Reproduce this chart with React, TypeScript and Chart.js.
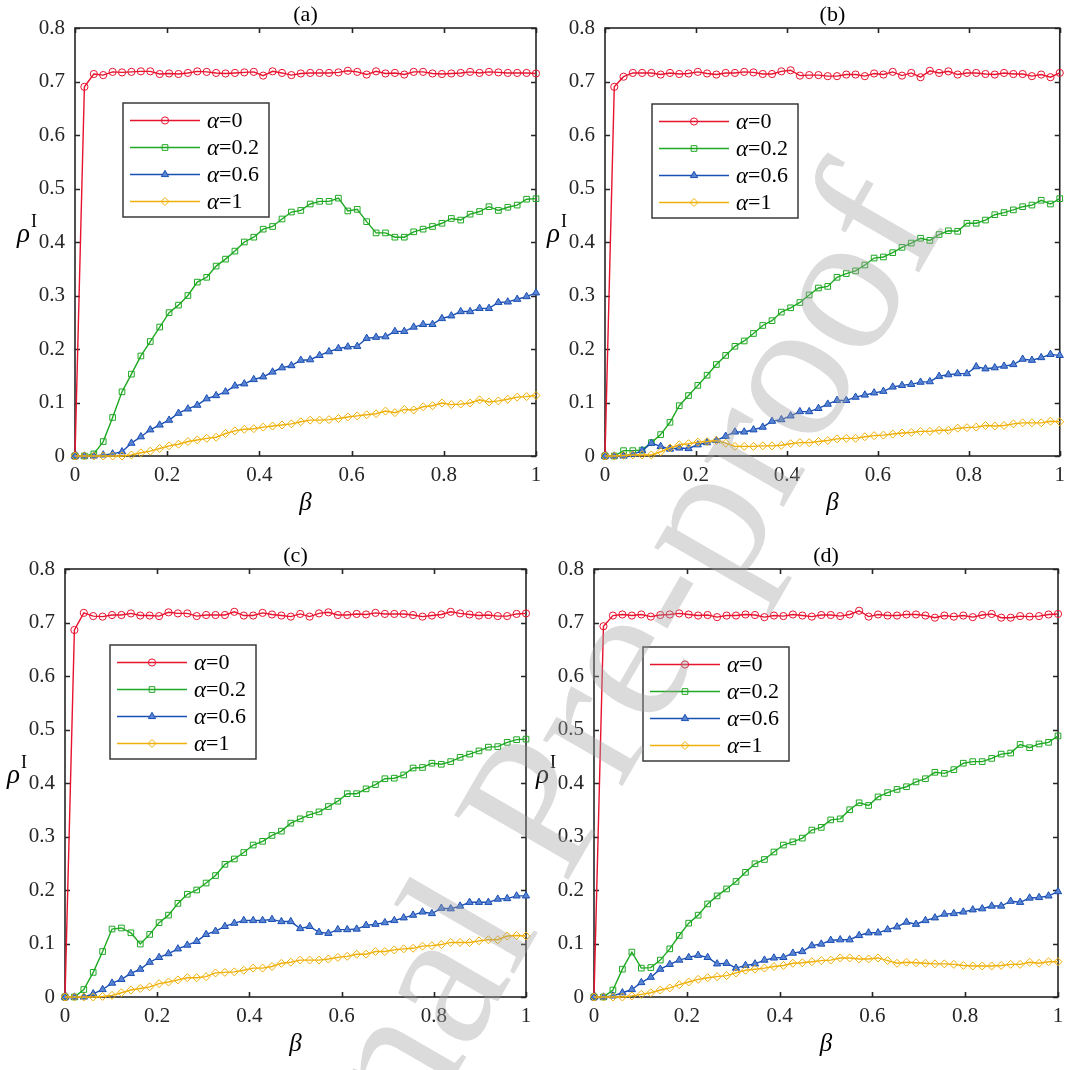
import React, { useEffect, useRef } from "react";
import { Chart, registerables } from "chart.js";
import { drawPoint } from "chart.js/helpers";

Chart.register(...registerables);

// ---------------- data ----------------
const betaValues = [0, 0.0204, 0.0408, 0.0612, 0.0816, 0.102, 0.1224, 0.1429, 0.1633, 0.1837, 0.2041, 0.2245, 0.2449, 0.2653, 0.2857, 0.3061, 0.3265, 0.3469, 0.3673, 0.3878, 0.4082, 0.4286, 0.449, 0.4694, 0.4898, 0.5102, 0.5306, 0.551, 0.5714, 0.5918, 0.6122, 0.6327, 0.6531, 0.6735, 0.6939, 0.7143, 0.7347, 0.7551, 0.7755, 0.7959, 0.8163, 0.8367, 0.8571, 0.8776, 0.898, 0.9184, 0.9388, 0.9592, 0.9796, 1];

const alphaLabels = ["0", "0.2", "0.6", "1"];
const panelTitles = ["(a)", "(b)", "(c)", "(d)"];
const xTickLabels = ["0", "0.2", "0.4", "0.6", "0.8", "1"];
const yTickLabels = ["0", "0.1", "0.2", "0.3", "0.4", "0.5", "0.6", "0.7", "0.8"];

const aRho0 = [0, 0.69, 0.714, 0.712, 0.718, 0.717, 0.718, 0.719, 0.719, 0.714, 0.715, 0.714, 0.716, 0.719, 0.718, 0.716, 0.715, 0.716, 0.717, 0.718, 0.711, 0.719, 0.716, 0.712, 0.715, 0.716, 0.716, 0.716, 0.717, 0.72, 0.718, 0.713, 0.719, 0.715, 0.716, 0.713, 0.718, 0.718, 0.715, 0.714, 0.715, 0.716, 0.718, 0.716, 0.718, 0.717, 0.716, 0.716, 0.716, 0.715];
const aRho02 = [0, 0, 0.004, 0.027, 0.072, 0.12, 0.153, 0.187, 0.214, 0.241, 0.268, 0.282, 0.3, 0.325, 0.334, 0.355, 0.368, 0.383, 0.4, 0.409, 0.424, 0.429, 0.443, 0.456, 0.459, 0.471, 0.476, 0.476, 0.482, 0.458, 0.461, 0.438, 0.417, 0.417, 0.409, 0.409, 0.419, 0.424, 0.429, 0.435, 0.444, 0.441, 0.452, 0.457, 0.466, 0.459, 0.465, 0.469, 0.48, 0.481];
const aRho06 = [0, 0, 0, 0.002, 0.004, 0.008, 0.024, 0.036, 0.049, 0.058, 0.067, 0.08, 0.088, 0.095, 0.107, 0.113, 0.12, 0.131, 0.135, 0.143, 0.148, 0.157, 0.165, 0.169, 0.179, 0.18, 0.188, 0.195, 0.201, 0.204, 0.205, 0.22, 0.222, 0.223, 0.233, 0.233, 0.241, 0.246, 0.246, 0.257, 0.262, 0.27, 0.27, 0.276, 0.276, 0.287, 0.288, 0.293, 0.298, 0.305];
const aRho1 = [0, 0, 0, 0, 0, 0, 0.002, 0.006, 0.009, 0.014, 0.019, 0.022, 0.027, 0.03, 0.033, 0.035, 0.042, 0.047, 0.05, 0.051, 0.054, 0.056, 0.058, 0.06, 0.064, 0.067, 0.067, 0.068, 0.07, 0.073, 0.075, 0.077, 0.079, 0.084, 0.081, 0.087, 0.086, 0.092, 0.094, 0.099, 0.096, 0.097, 0.099, 0.105, 0.101, 0.103, 0.106, 0.11, 0.111, 0.113];

const bRho0 = [0, 0.69, 0.709, 0.716, 0.716, 0.716, 0.713, 0.716, 0.714, 0.715, 0.718, 0.715, 0.713, 0.716, 0.716, 0.718, 0.717, 0.714, 0.714, 0.719, 0.721, 0.711, 0.712, 0.712, 0.71, 0.71, 0.713, 0.713, 0.71, 0.715, 0.713, 0.718, 0.711, 0.716, 0.708, 0.72, 0.716, 0.719, 0.713, 0.716, 0.716, 0.714, 0.713, 0.716, 0.714, 0.714, 0.71, 0.713, 0.708, 0.716];
const bRho02 = [0, 0, 0.01, 0.01, 0.011, 0.025, 0.04, 0.063, 0.094, 0.113, 0.132, 0.151, 0.171, 0.188, 0.205, 0.215, 0.229, 0.244, 0.253, 0.269, 0.277, 0.287, 0.301, 0.314, 0.317, 0.334, 0.341, 0.346, 0.357, 0.37, 0.372, 0.38, 0.39, 0.398, 0.407, 0.403, 0.414, 0.421, 0.42, 0.435, 0.435, 0.441, 0.451, 0.455, 0.46, 0.466, 0.469, 0.478, 0.471, 0.481];
const bRho06 = [0, 0, 0, 0.003, 0.01, 0.024, 0.018, 0.013, 0.015, 0.014, 0.021, 0.025, 0.029, 0.037, 0.045, 0.045, 0.049, 0.054, 0.065, 0.068, 0.075, 0.083, 0.083, 0.089, 0.097, 0.104, 0.104, 0.11, 0.114, 0.118, 0.121, 0.129, 0.132, 0.134, 0.138, 0.139, 0.149, 0.152, 0.154, 0.154, 0.167, 0.163, 0.165, 0.168, 0.171, 0.181, 0.179, 0.184, 0.19, 0.188];
const bRho1 = [0, 0, 0.001, 0.002, 0.002, 0.002, 0.008, 0.015, 0.021, 0.023, 0.026, 0.027, 0.029, 0.024, 0.018, 0.018, 0.018, 0.019, 0.019, 0.02, 0.023, 0.025, 0.025, 0.027, 0.029, 0.032, 0.033, 0.033, 0.036, 0.038, 0.039, 0.041, 0.043, 0.044, 0.046, 0.046, 0.048, 0.048, 0.052, 0.053, 0.054, 0.057, 0.056, 0.057, 0.06, 0.062, 0.062, 0.062, 0.065, 0.064];

const cRho0 = [0, 0.686, 0.718, 0.712, 0.711, 0.714, 0.714, 0.717, 0.713, 0.713, 0.712, 0.719, 0.717, 0.717, 0.712, 0.714, 0.714, 0.714, 0.72, 0.713, 0.713, 0.718, 0.715, 0.713, 0.711, 0.716, 0.711, 0.717, 0.719, 0.714, 0.714, 0.716, 0.715, 0.718, 0.716, 0.716, 0.716, 0.714, 0.711, 0.713, 0.715, 0.72, 0.717, 0.715, 0.713, 0.714, 0.712, 0.712, 0.716, 0.717];
const cRho02 = [0, 0, 0.014, 0.046, 0.085, 0.127, 0.129, 0.12, 0.099, 0.117, 0.139, 0.153, 0.175, 0.192, 0.2, 0.213, 0.227, 0.248, 0.258, 0.27, 0.284, 0.291, 0.302, 0.31, 0.325, 0.333, 0.341, 0.346, 0.356, 0.366, 0.38, 0.38, 0.389, 0.397, 0.408, 0.409, 0.415, 0.428, 0.429, 0.437, 0.435, 0.44, 0.448, 0.454, 0.46, 0.467, 0.468, 0.476, 0.481, 0.482];
const cRho06 = [0, 0, 0, 0.006, 0.014, 0.026, 0.033, 0.044, 0.052, 0.065, 0.074, 0.081, 0.09, 0.097, 0.104, 0.117, 0.123, 0.132, 0.138, 0.143, 0.143, 0.143, 0.145, 0.141, 0.141, 0.128, 0.132, 0.121, 0.119, 0.126, 0.126, 0.127, 0.134, 0.136, 0.139, 0.143, 0.148, 0.153, 0.159, 0.156, 0.166, 0.165, 0.17, 0.177, 0.177, 0.177, 0.183, 0.184, 0.189, 0.189];
const cRho1 = [0, 0, 0, 0, 0.001, 0.003, 0.008, 0.013, 0.016, 0.019, 0.025, 0.028, 0.032, 0.036, 0.036, 0.038, 0.045, 0.046, 0.047, 0.05, 0.054, 0.054, 0.057, 0.063, 0.065, 0.069, 0.069, 0.069, 0.071, 0.074, 0.076, 0.08, 0.08, 0.085, 0.085, 0.088, 0.09, 0.091, 0.095, 0.096, 0.098, 0.102, 0.102, 0.102, 0.105, 0.107, 0.107, 0.114, 0.115, 0.114];

const dRho0 = [0, 0.693, 0.713, 0.715, 0.713, 0.715, 0.711, 0.714, 0.715, 0.717, 0.715, 0.713, 0.714, 0.71, 0.713, 0.713, 0.715, 0.714, 0.71, 0.713, 0.712, 0.715, 0.713, 0.711, 0.714, 0.714, 0.712, 0.715, 0.722, 0.711, 0.715, 0.713, 0.713, 0.715, 0.715, 0.713, 0.709, 0.713, 0.711, 0.713, 0.71, 0.714, 0.716, 0.709, 0.709, 0.712, 0.711, 0.712, 0.715, 0.716];
const dRho02 = [0, 0, 0.013, 0.052, 0.084, 0.054, 0.055, 0.069, 0.09, 0.115, 0.138, 0.153, 0.174, 0.189, 0.202, 0.216, 0.233, 0.249, 0.257, 0.271, 0.284, 0.29, 0.297, 0.312, 0.317, 0.331, 0.333, 0.35, 0.363, 0.358, 0.374, 0.382, 0.388, 0.393, 0.402, 0.408, 0.42, 0.418, 0.425, 0.437, 0.44, 0.44, 0.446, 0.454, 0.456, 0.472, 0.466, 0.473, 0.476, 0.488];
const dRho06 = [0, 0, 0.002, 0.008, 0.014, 0.027, 0.037, 0.052, 0.061, 0.069, 0.074, 0.078, 0.074, 0.062, 0.063, 0.054, 0.059, 0.062, 0.069, 0.073, 0.074, 0.082, 0.085, 0.096, 0.099, 0.106, 0.107, 0.107, 0.115, 0.12, 0.12, 0.126, 0.131, 0.14, 0.136, 0.143, 0.148, 0.155, 0.156, 0.159, 0.163, 0.165, 0.17, 0.17, 0.179, 0.177, 0.185, 0.186, 0.189, 0.197];
const dRho1 = [0, 0, 0, 0, 0.002, 0.005, 0.008, 0.013, 0.017, 0.023, 0.028, 0.033, 0.036, 0.038, 0.04, 0.045, 0.05, 0.052, 0.054, 0.057, 0.059, 0.063, 0.064, 0.066, 0.068, 0.069, 0.073, 0.073, 0.071, 0.071, 0.073, 0.068, 0.063, 0.065, 0.064, 0.063, 0.062, 0.062, 0.061, 0.059, 0.058, 0.058, 0.058, 0.059, 0.061, 0.061, 0.065, 0.063, 0.066, 0.066];

const panelSeries = [
  [aRho0, aRho02, aRho06, aRho1],
  [bRho0, bRho02, bRho06, bRho1],
  [cRho0, cRho02, cRho06, cRho1],
  [dRho0, dRho02, dRho06, dRho1],
];

// ---------------- layout & style ----------------
const W = 1072;
const H = 1070;
const FONT = "'Liberation Serif', 'Times New Roman', serif";
const AXIS_COLOR = "#262626";
const Y_AXIS_W = 60;
const X_AXIS_H = 40;
const TICK_LEN = 5;

const panelAreas = [
  { left: 75, top: 28, right: 536, bottom: 456 },
  { left: 605, top: 28, right: 1065, bottom: 456 },
  { left: 65, top: 569, right: 526, bottom: 997 },
  { left: 594, top: 569, right: 1058, bottom: 997 },
];
const legendOffsets = [
  { dx: 48, dy: 75 },
  { dx: 47, dy: 76 },
  { dx: 45, dy: 76 },
  { dx: 49, dy: 78 },
];

const seriesStyles = [
  { color: "#e8132f", pointStyle: "circle", radius: 3.6, fill: "rgba(0,0,0,0)" },
  { color: "#1fa823", pointStyle: "rect", radius: 4.0, fill: "rgba(0,0,0,0)" },
  { color: "#1a4fb4", pointStyle: "triangle", radius: 4.2, fill: "#5a84d2" },
  { color: "#efb00a", pointStyle: "rectRot", radius: 4.0, fill: "rgba(0,0,0,0)" },
];

function fmtTick(v: number) {
  return String(Math.round(v * 10) / 10);
}

function makePlugin(pi: number) {
  const title = panelTitles[pi];
  const lo = legendOffsets[pi];
  return {
    id: "panelDeco" + pi,
    beforeDatasetsDraw(chart: any) {
      const { ctx, chartArea: a, scales } = chart;
      ctx.save();
      ctx.strokeStyle = AXIS_COLOR;
      ctx.lineWidth = 1.6;
      ctx.beginPath();
      for (const t of scales.x.ticks) {
        const px = Math.round(scales.x.getPixelForValue(t.value)) + 0.5;
        ctx.moveTo(px, a.bottom);
        ctx.lineTo(px, a.bottom - TICK_LEN);
        ctx.moveTo(px, a.top);
        ctx.lineTo(px, a.top + TICK_LEN);
      }
      for (const t of scales.y.ticks) {
        const py = Math.round(scales.y.getPixelForValue(t.value)) + 0.5;
        ctx.moveTo(a.left, py);
        ctx.lineTo(a.left + TICK_LEN, py);
        ctx.moveTo(a.right, py);
        ctx.lineTo(a.right - TICK_LEN, py);
      }
      ctx.stroke();
      ctx.strokeRect(a.left, a.top, a.right - a.left, a.bottom - a.top);
      ctx.restore();
    },
    afterDatasetsDraw(chart: any) {
      const { ctx, chartArea: a } = chart;
      const bx = a.left + lo.dx;
      const by = a.top + lo.dy;
      const bw = 146;
      const bh = 114;
      ctx.save();
      ctx.fillStyle = "#ffffff";
      ctx.fillRect(bx, by, bw, bh);
      ctx.strokeStyle = "#3a3a3a";
      ctx.lineWidth = 1.5;
      ctx.strokeRect(bx, by, bw, bh);
      chart.data.datasets.forEach((ds: any, i: number) => {
        const st = seriesStyles[i];
        const ry = by + 17.5 + i * 27;
        ctx.strokeStyle = st.color;
        ctx.lineWidth = 1.5;
        ctx.beginPath();
        ctx.moveTo(bx + 7, ry);
        ctx.lineTo(bx + 77, ry);
        ctx.stroke();
        ctx.fillStyle = st.fill;
        ctx.strokeStyle = st.color;
        ctx.lineWidth = 1;
        drawPoint(ctx, { pointStyle: st.pointStyle, radius: st.radius, rotation: 0, borderWidth: 1 } as any, bx + 42, ry);
        // text: italic alpha + "=value"
        ctx.fillStyle = "#000000";
        ctx.textBaseline = "middle";
        ctx.textAlign = "left";
        ctx.font = `italic 23px ${FONT}`;
        const tx = bx + 84;
        ctx.fillText("α", tx, ry + 1);
        const aw = ctx.measureText("α").width;
        ctx.font = `22px ${FONT}`;
        ctx.fillText("=" + alphaLabels[i], tx + aw, ry + 1);
      });
      ctx.restore();
    },
    afterDraw(chart: any) {
      const { ctx, chartArea: a } = chart;
      ctx.save();
      ctx.fillStyle = "#000000";
      ctx.textBaseline = "alphabetic";
      ctx.textAlign = "center";
      ctx.font = `22px ${FONT}`;
      ctx.fillText(title, (a.left + a.right) / 2, a.top - 7);
      ctx.font = `italic 25px ${FONT}`;
      ctx.fillText("β", (a.left + a.right) / 2, a.bottom + 54);
      ctx.textAlign = "left";
      ctx.font = `italic 27px ${FONT}`;
      const rx = a.left - 58;
      const ry = a.top + 214;
      ctx.fillText("ρ", rx, ry);
      const rw = ctx.measureText("ρ").width;
      ctx.font = `18px ${FONT}`;
      ctx.fillText("I", rx + rw + 1, ry - 15);
      ctx.restore();
    },
  };
}

function makeConfig(pi: number): any {
  const area = panelAreas[pi];
  const datasets = panelSeries[pi].map((vals, si) => {
    const st = seriesStyles[si];
    return {
      label: "α=" + alphaLabels[si],
      data: betaValues.map((x, k) => ({ x, y: vals[k] })),
      borderColor: st.color,
      borderWidth: 1.4,
      pointStyle: st.pointStyle,
      pointRadius: st.radius,
      pointBorderWidth: 1,
      pointBorderColor: st.color,
      pointBackgroundColor: st.fill,
      tension: 0,
      fill: false,
      clip: false,
      order: 3 - si,
    };
  });
  const tickFont = { family: FONT, size: 21 };
  return {
    type: "line",
    data: { datasets },
    options: {
      animation: false,
      responsive: false,
      devicePixelRatio: 1,
      events: [],
      layout: {
        padding: {
          left: area.left - Y_AXIS_W,
          top: area.top,
          right: W - area.right,
          bottom: H - area.bottom - X_AXIS_H,
        },
      },
      plugins: { legend: { display: false }, tooltip: { enabled: false }, title: { display: false } },
      scales: {
        x: {
          type: "linear",
          min: 0,
          max: 1,
          grid: { display: false, drawTicks: false },
          border: { display: false },
          ticks: {
            stepSize: 0.2,
            autoSkip: false,
            maxRotation: 0,
            padding: 7,
            color: AXIS_COLOR,
            font: tickFont,
            callback: (v: number) => {
              const s = fmtTick(v);
              return xTickLabels.includes(s) ? s : "";
            },
          },
          afterFit: (s: any) => {
            s.height = X_AXIS_H;
          },
        },
        y: {
          type: "linear",
          min: 0,
          max: 0.8,
          grid: { display: false, drawTicks: false },
          border: { display: false },
          ticks: {
            stepSize: 0.1,
            autoSkip: false,
            padding: 10,
            color: AXIS_COLOR,
            font: tickFont,
            callback: (v: number) => {
              const s = fmtTick(v);
              return yTickLabels.includes(s) ? s : "";
            },
          },
          afterFit: (s: any) => {
            s.width = Y_AXIS_W;
          },
        },
      },
    },
    plugins: [makePlugin(pi)],
  };
}

const watermark = { text: "Journal Pre-proof", x: 948, y: 222, angle: 60, size: 200 };

function drawWatermark(c: HTMLCanvasElement) {
  const ctx = c.getContext("2d");
  if (!ctx) return;
  ctx.clearRect(0, 0, W, H);
  ctx.save();
  ctx.translate(watermark.x, watermark.y);
  ctx.rotate((-watermark.angle * Math.PI) / 180);
  ctx.font = `${watermark.size}px ${FONT}`;
  ctx.fillStyle = "rgba(160,160,160,0.38)";
  ctx.textAlign = "right";
  ctx.textBaseline = "alphabetic";
  ctx.fillText(watermark.text, 0, 0);
  ctx.restore();
}

export default function App() {
  const canvases = useRef<(HTMLCanvasElement | null)[]>([]);
  const wmRef = useRef<HTMLCanvasElement | null>(null);

  useEffect(() => {
    const charts = [0, 1, 2, 3].map((i) => new Chart(canvases.current[i] as HTMLCanvasElement, makeConfig(i)));
    if (wmRef.current) drawWatermark(wmRef.current);
    return () => charts.forEach((c) => c.destroy());
  }, []);

  return (
    <div style={{ position: "absolute", left: 0, top: 0, width: W, height: H, background: "#ffffff", overflow: "hidden" }}>
      {[0, 1, 2, 3].map((i) => (
        <canvas
          key={i}
          ref={(el) => {
            canvases.current[i] = el;
          }}
          width={W}
          height={H}
          style={{ position: "absolute", left: 0, top: 0, width: W, height: H }}
        />
      ))}
      <canvas ref={wmRef} width={W} height={H} style={{ position: "absolute", left: 0, top: 0, width: W, height: H, pointerEvents: "none" }} />
    </div>
  );
}
